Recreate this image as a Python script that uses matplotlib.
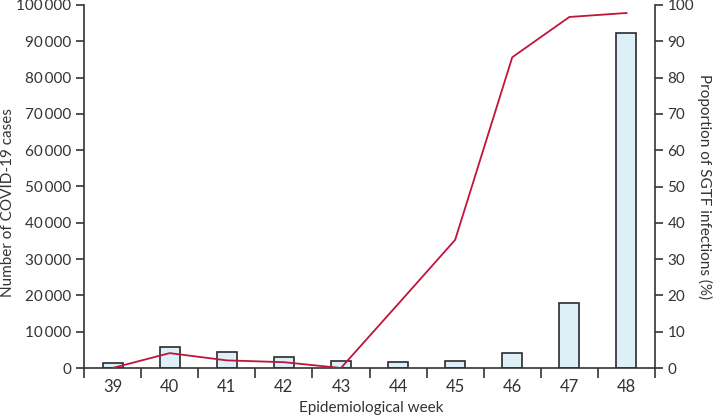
import matplotlib
matplotlib.use("Agg")
import matplotlib.pyplot as plt
import numpy as np
from matplotlib.ticker import FuncFormatter, FixedLocator

weeks = ["39", "40", "41", "42", "43", "44", "45", "46", "47", "48"]
cases = [1500, 5800, 4400, 2900, 1950, 1600, 1800, 4150, 17800, 92200]
sgtf_pct = [0, 4.1, 2.1, 1.6, 0, 17.6, 35.3, 85.6, 96.7, 97.8]

plt.rcParams['font.family'] = ['Lato', 'DejaVu Sans']
txt = '#333333'
W, H = 714, 417
fig = plt.figure(figsize=(W/100, H/100), dpi=100)
ax = fig.add_axes([84/W, 49/H, 571/W, 363/H])
x = np.arange(len(weeks))
ax.bar(x, cases, width=0.35, color='#def0f7', edgecolor='#2b2b2b', linewidth=1.2, zorder=2)
ax.set_xlim(-0.5, len(weeks) - 0.5)
ax.set_ylim(0, 100000)
ax.set_yticks(np.arange(0, 100001, 10000))
ax.yaxis.set_major_formatter(FuncFormatter(lambda v, p: f"{int(v):,}".replace(",", "\u2009")))
ax.set_xticks(x)
ax.set_xticklabels(weeks)
ax.xaxis.set_minor_locator(FixedLocator(np.arange(-0.5, len(weeks), 1.0)))
ax.tick_params(axis='x', which='major', length=0, pad=8, labelsize=12, colors=txt)
ax.tick_params(axis='x', which='minor', length=7, width=1.2, color='#333333')
ax.tick_params(axis='y', length=6, width=1.2, labelsize=11, colors=txt, pad=3)
for s in ['top', 'right']:
    ax.spines[s].set_visible(False)
for s in ['left', 'bottom']:
    ax.spines[s].set_linewidth(1.2)
    ax.spines[s].set_color('#333333')

ax2 = ax.twinx()
ax2.plot(x, sgtf_pct, color='#c0143c', linewidth=1.3, zorder=3)
ax2.set_ylim(0, 100)
ax2.set_yticks(np.arange(0, 101, 10))
for s in ['top', 'left', 'bottom']:
    ax2.spines[s].set_visible(False)
ax2.spines['right'].set_linewidth(1.2)
ax2.spines['right'].set_color('#333333')
ax2.tick_params(axis='y', length=6, width=1.2, labelsize=11, colors=txt, pad=3)

fig.text(8/W, 1 - 203/H, "Number of COVID-19 cases", rotation=90, ha='center', va='center',
         fontsize=11, color=txt)
fig.text(705/W, 1 - 187/H, "Proportion of SGTF infections (%)", rotation=270, ha='center', va='center',
         fontsize=11, color=txt)
fig.text(371/W, 1 - 408/H, "Epidemiological week", ha='center', va='center', fontsize=11, color=txt)

fig.savefig("out.png", dpi=100)
